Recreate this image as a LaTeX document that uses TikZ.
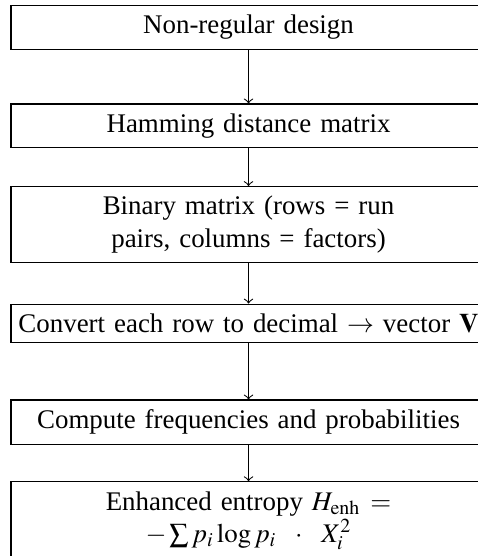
\documentclass[tikz,border=0pt]{standalone}
\usepackage{mathptmx}
\usepackage{fontspec}
\setmainfont{Liberation Serif}
\begin{document}
\begin{tikzpicture}[
  stage/.style={draw, text width=172pt, align=center, inner xsep=2.3pt, inner ysep=3.6pt},
  flow/.style={->}
]
\useasboundingbox (-92.4pt,10.1pt) rectangle (85.3pt,-196.6pt);
\foreach \i/\txt in {0/{Non-regular design},
                     1/{Hamming distance matrix},
                     2/{Binary matrix (rows = run pairs, columns = factors)},
                     3/{Convert each row to decimal $\rightarrow$ vector $\mathbf{V}$},
                     4/{Compute frequencies and probabilities},
                     5/{Enhanced entropy $H_{\mathrm{enh}} = -\sum p_i \log p_i \;\cdot\; X_i^2$}} {
  \node[stage] (s\i) at (0,-\i*36.7pt) {\txt};
}
\foreach \i/\j in {0/1,1/2,2/3,3/4,4/5} {
  \draw[flow] (s\i) -- (s\j);
}
\end{tikzpicture}
\end{document}
